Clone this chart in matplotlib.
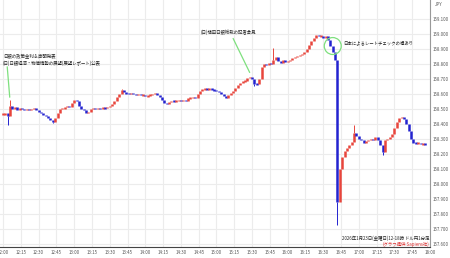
import numpy as np
import matplotlib
matplotlib.use('Agg')
import matplotlib.pyplot as plt
import matplotlib.patches as patches

plt.rcParams['font.family'] = ['Noto Sans CJK JP', 'DejaVu Sans']

# 2分ごとの終値 (12:00 からの経過分)
minutes = list(range(0, 358, 2))
closes = [
    158.465, 158.470, 158.455, 158.520, 158.500, 158.510, 158.495, 158.505, 158.500, 158.495,
    158.500, 158.490, 158.500, 158.505, 158.495, 158.480, 158.470, 158.460, 158.455, 158.440,
    158.425, 158.415, 158.440, 158.470, 158.500, 158.505, 158.510, 158.520, 158.515, 158.540,
    158.560, 158.555, 158.520, 158.500, 158.490, 158.475, 158.480, 158.500, 158.505, 158.500,
    158.505, 158.500, 158.510, 158.505, 158.515, 158.520, 158.530, 158.550, 158.580, 158.600,
    158.625, 158.610, 158.605, 158.600, 158.605, 158.600, 158.595, 158.600, 158.590, 158.595,
    158.585, 158.590, 158.595, 158.600, 158.605, 158.595, 158.580, 158.560, 158.540, 158.530,
    158.545, 158.555, 158.550, 158.555, 158.560, 158.555, 158.560, 158.550, 158.570, 158.575,
    158.580, 158.570, 158.600, 158.620, 158.630, 158.635, 158.630, 158.635, 158.630, 158.625,
    158.620, 158.615, 158.600, 158.585, 158.575, 158.590, 158.605, 158.620, 158.640, 158.660,
    158.675, 158.685, 158.690, 158.705, 158.715, 158.700, 158.670, 158.665, 158.700, 158.780,
    158.800, 158.795, 158.810, 158.800, 158.830, 158.850, 158.820, 158.810, 158.825, 158.815,
    158.820, 158.830, 158.840, 158.845, 158.855, 158.860, 158.870, 158.880, 158.900, 158.930,
    158.955, 158.975, 158.995, 158.985, 158.990, 158.975, 158.985, 158.960, 158.920, 158.880,
    158.830, 157.880, 158.100, 158.180, 158.220, 158.240, 158.260, 158.280, 158.340, 158.320,
    158.300, 158.290, 158.270, 158.285, 158.295, 158.300, 158.290, 158.310, 158.290, 158.260,
    158.210, 158.290, 158.300, 158.310, 158.330, 158.370, 158.410, 158.440, 158.445, 158.430,
    158.400, 158.350, 158.300, 158.275, 158.270, 158.275, 158.265, 158.270, 158.260,
]
minutes = minutes[:len(closes)]

# 目立つヒゲ
wick_minutes = [4, 6, 42, 100, 212, 228, 282, 296, 320]
wick_prices = [158.393, 158.560, 158.405, 158.635, 158.655, 158.907, 157.727, 158.393, 158.190]

tick_minutes = list(range(0, 361, 15))
tick_labels = [f'{12 + m // 60}:{m % 60:02d}' for m in tick_minutes]
price_ticks = [157.6 + 0.1 * i for i in range(16)]

UP = '#e8453c'
DOWN = '#2323d0'
GREEN = '#7ee07e'

fig = plt.figure(figsize=(4.5, 2.58), dpi=100)
ax = fig.add_axes([0.0, 0.043, 0.9556, 0.957])

opens = [closes[0]] + closes[:-1]
for m, o, c in zip(minutes, opens, closes):
    col = UP if c >= o else DOWN
    lo, hi = min(o, c), max(o, c)
    if hi - lo < 0.01:
        mid = (hi + lo) / 2
        lo, hi = mid - 0.005, mid + 0.005
    ax.vlines(m, lo, hi, color=col, linewidth=1.8, zorder=3)

for wm, wp in zip(wick_minutes, wick_prices):
    i = minutes.index(wm)
    o, c = opens[i], closes[i]
    col = UP if c >= o else DOWN
    edge = min(o, c) if wp < min(o, c) else max(o, c)
    ax.vlines(wm, min(edge, wp), max(edge, wp), color=col, linewidth=0.7, zorder=3)

ax.set_xlim(-2.5, 360)
ax.set_ylim(157.58, 159.227)
ax.set_xticks(tick_minutes)
ax.set_xticklabels(tick_labels)
ax.set_yticks(price_ticks)
ax.set_yticklabels([f'{p:.3f}' for p in price_ticks])
ax.yaxis.tick_right()
ax.tick_params(axis='both', length=0, labelsize=3.2, colors='#555555')
ax.tick_params(axis='x', pad=2)
ax.tick_params(axis='y', pad=2)
ax.grid(True, color='#ececec', linewidth=0.8, zorder=0)
for s in ['left', 'top']:
    ax.spines[s].set_visible(False)
ax.spines['bottom'].set_color('#444444')
ax.spines['bottom'].set_linewidth(0.8)
ax.spines['right'].set_color('#999999')
ax.spines['right'].set_linewidth(0.8)

fig.text(0.975, 0.982, 'JPY', fontsize=3.2, color='#555555', ha='center', va='center')

# 注記
ax.annotate('', xy=(5.9, 158.56), xytext=(3.4, 158.80),
            arrowprops=dict(arrowstyle='-', color=GREEN, linewidth=0.9), zorder=4)
ax.text(0.0, 158.847, '日銀の政策金利＆声明発表', fontsize=3.2, color='#222222',
        ha='left', va='center')
ax.text(0.0, 158.807, '(日)日銀経済・物価情勢の展望(展望レポート)公表', fontsize=3.2,
        color='#222222', ha='left', va='center')

ax.annotate('', xy=(209, 158.727), xytext=(193, 158.987),
            arrowprops=dict(arrowstyle='-', color=GREEN, linewidth=0.9), zorder=4)
ax.text(167, 159.01, '(日)植田日銀総裁の記者会見', fontsize=3.2, color='#222222',
        ha='left', va='center')

ax.add_patch(patches.Ellipse((278, 158.92), 14.3, 0.113, fill=False,
                             edgecolor=GREEN, linewidth=0.9, zorder=4))
ax.text(286.5, 158.94, '日本によるレートチェックの噂あり', fontsize=3.2, color='#222222',
        ha='left', va='center')

ax.text(0.998, 0.035, '2026年1月23日(金曜日)12-18時 ドル円1分足', transform=ax.transAxes,
        fontsize=3.2, color='#222222', ha='right', va='center')
ax.text(0.998, 0.012, '(グラフ提供:Sapiens社)', transform=ax.transAxes,
        fontsize=3.2, color='#e03030', ha='right', va='center')

fig.savefig('out.png', dpi=100)
